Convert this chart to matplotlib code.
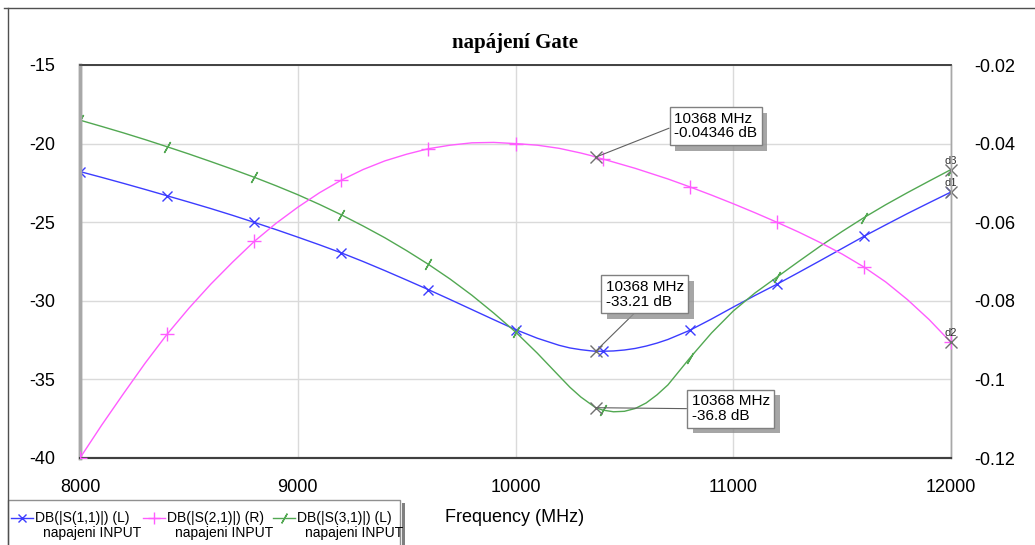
import matplotlib
matplotlib.use('Agg')
import matplotlib.pyplot as plt
import matplotlib.patheffects as pe
from matplotlib.lines import Line2D
from matplotlib.patches import Rectangle

plt.rcParams['font.family'] = ['Liberation Sans', 'DejaVu Sans']
plt.rcParams['axes.unicode_minus'] = False

# frekvence (MHz), okolo minima S31 jemnejsi krok, 10368 = bod markeru
freq = (list(range(8000, 10201, 100)) + [10250, 10300, 10350, 10368]
        + list(range(10400, 10701, 50)) + list(range(10800, 12001, 100)))

# DB(|S(1,1)|) - leva osa
s11_db = [-21.78, -22.15, -22.53, -22.92, -23.32, -23.72, -24.13, -24.56, -25.01,
          -25.47, -25.95, -26.44, -26.95, -27.50, -28.08, -28.68, -29.29, -29.92,
          -30.56, -31.20, -31.83, -32.38, -32.83,
          -33.00, -33.11, -33.19, -33.21,
          -33.21, -33.19, -33.13, -33.03, -32.88, -32.69, -32.46,
          -31.88, -31.16, -30.40, -29.66, -28.95, -28.20, -27.44, -26.67, -25.90,
          -25.17, -24.45, -23.76, -23.08]

# DB(|S(2,1)|) - prava osa
s21_db = [-0.1200, -0.1116, -0.1036, -0.0958, -0.0885, -0.0819, -0.0758, -0.0702,
          -0.0649, -0.0603, -0.0562, -0.0525, -0.0493, -0.0466, -0.0444, -0.0427,
          -0.0413, -0.0404, -0.0398, -0.0397, -0.0400, -0.0404, -0.0412,
          -0.0418, -0.0424, -0.0431, -0.04346,
          -0.0439, -0.0447, -0.0455, -0.0463, -0.0472, -0.0481, -0.0490,
          -0.0510, -0.0531, -0.0553, -0.0576, -0.0600, -0.0625, -0.0652, -0.0681,
          -0.0714, -0.0752, -0.0797, -0.0848, -0.0906]

# DB(|S(3,1)|) - leva osa
s31_db = [-18.51, -18.91, -19.32, -19.75, -20.20, -20.66, -21.14, -21.63, -22.14,
          -22.68, -23.25, -23.87, -24.53, -25.24, -25.99, -26.81, -27.68, -28.62,
          -29.65, -30.78, -31.98, -33.33, -34.78,
          -35.50, -36.12, -36.62, -36.80,
          -36.95, -37.06, -37.03, -36.85, -36.50, -35.98, -35.35,
          -33.65, -32.05, -30.65, -29.50, -28.50, -27.50, -26.52, -25.59, -24.71,
          -23.89, -23.12, -22.38, -21.65]

left_ticks = [-40, -35, -30, -25, -20, -15]
right_ticks = [-0.12, -0.1, -0.08, -0.06, -0.04, -0.02]
right_labels = ['-0.12', '-0.1', '-0.08', '-0.06', '-0.04', '-0.02']
x_ticks = [8000, 9000, 10000, 11000, 12000]

marker_f = 10368
legend_names = ['DB(|S(1,1)|) (L)', 'DB(|S(2,1)|) (R)', 'DB(|S(3,1)|) (L)']
legend_src = 'napajeni INPUT'

c_s11 = '#3c3cff'
c_s21 = '#ff5cff'
c_s31 = '#52a852'
m_s31 = (2, 2, -30)

mark_idx = [i for i, f in enumerate(freq) if f % 400 == 0]
mi = freq.index(marker_f)

W, H = 1035, 545
fig = plt.figure(figsize=(W / 100, H / 100), dpi=100)
ax = fig.add_axes([80 / W, 87 / H, 871 / W, 393 / H])
ax2 = ax.twinx()

ax.plot(freq, s11_db, color=c_s11, lw=1, marker='x', ms=7, mew=1,
        markevery=mark_idx, zorder=3)
ax.plot(freq, s31_db, color=c_s31, lw=1, marker=m_s31, ms=9, mew=1,
        markevery=mark_idx, zorder=3)
ax2.plot(freq, s21_db, color=c_s21, lw=1, marker='+', ms=10, mew=1,
         markevery=mark_idx, zorder=3)

ax.set_xlim(8000, 12000)
ax.set_ylim(-40, -15)
ax2.set_ylim(-0.12, -0.02)
ax.set_xticks(x_ticks)
ax.set_yticks(left_ticks)
ax2.set_yticks(right_ticks)
ax2.set_yticklabels(right_labels)
ax.grid(color='#dadada', lw=1)
ax.set_axisbelow(True)
ax.tick_params(axis='x', length=0, pad=15, labelsize=13)
ax.tick_params(axis='y', length=0, pad=18, labelsize=13)
ax2.tick_params(axis='y', length=0, pad=17, labelsize=13)

for a in (ax, ax2):
    a.spines['left'].set_color('#a8a8a8')
    a.spines['left'].set_linewidth(2.5)
    a.spines['right'].set_color('#a8a8a8')
    a.spines['right'].set_linewidth(1)
    a.spines['bottom'].set_color('#404040')
    a.spines['bottom'].set_linewidth(1.5)
    a.spines['top'].set_color('#404040')
    a.spines['top'].set_linewidth(1.2)

# markery na 10368 MHz s popisky
shadow = [pe.withSimplePatchShadow(offset=(4, -4), shadow_rgbFace='#909090', alpha=0.8)]
notes = [(ax2, s21_db[mi], '%g' % s21_db[mi], (120, 31), (0, 0.5)),
         (ax, s11_db[mi], '%.2f' % s11_db[mi], (49, 57), (0.43, 0)),
         (ax, s31_db[mi], '%.1f' % s31_db[mi], (135, -1), (0, 0.5))]
for a, val, txt, off, rp in notes:
    a.plot([marker_f], [val], marker='x', color='#707070', ms=8, mew=1, zorder=5)
    t = a.annotate('%d MHz\n%s dB' % (marker_f, txt), xy=(marker_f, val),
                   xytext=off, textcoords='offset pixels', ha='center', va='center',
                   multialignment='left', fontsize=11, linespacing=1.05, zorder=6,
                   bbox=dict(boxstyle='square,pad=0.3', fc='white', ec='#808080', lw=1),
                   arrowprops=dict(arrowstyle='-', color='#606060', lw=0.8,
                                   relpos=rp, shrinkA=0, shrinkB=0))
    t.get_bbox_patch().set_path_effects(shadow)

# koncove markery d1..d3
ends = [(ax, s11_db[-1], 'd1'), (ax2, s21_db[-1], 'd2'), (ax, s31_db[-1], 'd3')]
for a, val, name in ends:
    a.plot([freq[-1]], [val], marker='x', color='#707070', ms=8, mew=1,
           clip_on=False, zorder=5)
    a.annotate(name, xy=(freq[-1], val), xytext=(0, 9), textcoords='offset pixels',
               ha='center', va='center', fontsize=8, color='#303030',
               annotation_clip=False)

fig.text(515 / W, 1 - 43 / H, 'napájení Gate', family='Liberation Serif',
         weight='bold', fontsize=15, ha='center', va='center')
fig.text(515 / W, 1 - 517 / H, 'Frequency (MHz)', fontsize=13,
         ha='center', va='center')

# ramecek kolem obrazku
fig.add_artist(Line2D([4 / W, 1], [1 - 8 / H] * 2, transform=fig.transFigure,
                      color='#505050', lw=1))
fig.add_artist(Line2D([8 / W] * 2, [0, 1 - 8 / H], transform=fig.transFigure,
                      color='#505050', lw=1))

# legenda
fig.add_artist(Rectangle((402 / W, -0.02), 3 / W, (H - 503) / H + 0.02,
                         transform=fig.transFigure, fc='#808080', ec='none'))
fig.add_artist(Rectangle((8 / W, -0.02), 392 / W, (H - 500) / H + 0.02,
                         transform=fig.transFigure, fc='white', ec='#909090', lw=1))
entries = [(c_s11, 'x', 6), (c_s21, '+', 9), (c_s31, m_s31, 8)]
x0s = [11, 143, 273]
for (col, mk, ms), x0, name in zip(entries, x0s, legend_names):
    y1 = 1 - 518 / H
    fig.add_artist(Line2D([x0 / W, (x0 + 22) / W], [y1, y1], transform=fig.transFigure,
                          color=col, lw=1))
    fig.add_artist(Line2D([(x0 + 11) / W], [y1], transform=fig.transFigure,
                          color=col, marker=mk, ms=ms, mew=1, lw=0))
    fig.text((x0 + 24) / W, y1, name, fontsize=10, ha='left', va='center')
    fig.text((x0 + 32) / W, 1 - 533 / H, legend_src, fontsize=10,
             ha='left', va='center')

fig.savefig('out.png', dpi=100)
